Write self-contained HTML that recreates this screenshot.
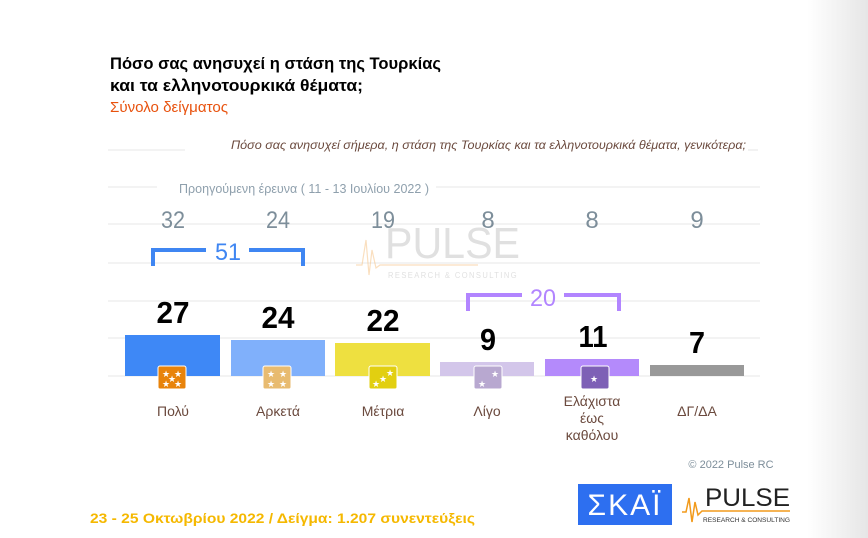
<!DOCTYPE html>
<html><head><meta charset="utf-8">
<style>
html,body{margin:0;padding:0;}
body{width:868px;height:538px;overflow:hidden;background:linear-gradient(to right,#fff 0%,#fff 93%,#e6e6e6 100%);}
svg{display:block;}
text{font-family:"Liberation Sans Narrow","Liberation Sans",sans-serif;}
</style></head><body>
<svg width="868" height="538" viewBox="0 0 868 538" xmlns="http://www.w3.org/2000/svg">
<text x="110" y="69" font-size="17" font-weight="bold" fill="#000" textLength="331" lengthAdjust="spacingAndGlyphs">Πόσο σας ανησυχεί η στάση της Τουρκίας</text>
<text x="110" y="91" font-size="17" font-weight="bold" fill="#000" textLength="253" lengthAdjust="spacingAndGlyphs">και τα ελληνοτουρκικά θέματα;</text>
<text x="110" y="112" font-size="15" fill="#e8520e" textLength="118" lengthAdjust="spacingAndGlyphs">Σύνολο δείγματος</text>
<text x="746" y="149" font-size="12" font-style="italic" fill="#6b4a3e" text-anchor="end" textLength="515" lengthAdjust="spacingAndGlyphs">Πόσο σας ανησυχεί σήμερα, η στάση της Τουρκίας και τα ελληνοτουρκικά θέματα, γενικότερα;</text>
<g stroke="#ececec" stroke-width="1.3">
<line x1="108" y1="150" x2="185" y2="150"/><line x1="748" y1="150" x2="758" y2="150"/>
<line x1="108" y1="187" x2="157" y2="187"/><line x1="436" y1="187" x2="760" y2="187"/>
<line x1="108" y1="224" x2="760" y2="224"/>
<line x1="108" y1="263" x2="760" y2="263"/>
<line x1="108" y1="301" x2="760" y2="301"/>
<line x1="108" y1="338" x2="760" y2="338"/>
<line x1="108" y1="376" x2="760" y2="376"/>
</g>
<g opacity="0.55">
<text x="385" y="258" font-size="44" fill="#c8c8c8" textLength="135" lengthAdjust="spacingAndGlyphs" font-family="Liberation Sans">PULSE</text>
<text x="388" y="278" font-size="8" fill="#c8c8c8" letter-spacing="1.5" textLength="130" lengthAdjust="spacingAndGlyphs">RESEARCH &amp; CONSULTING</text>
<polyline points="356,265 362,265 366,240 369,275 372,250 376,268 380,265 478,265" fill="none" stroke="#f5c48a" stroke-width="1.2"/>
</g>
<text x="179" y="193" font-size="13" fill="#8fa0ad" textLength="250" lengthAdjust="spacingAndGlyphs">Προηγούμενη έρευνα  ( 11 - 13 Ιουλίου  2022 )</text>
<g font-size="24" fill="#7d8e9a" text-anchor="middle">
<text x="173" y="228" textLength="24" lengthAdjust="spacingAndGlyphs">32</text><text x="278" y="228" textLength="24" lengthAdjust="spacingAndGlyphs">24</text><text x="383" y="228" textLength="24" lengthAdjust="spacingAndGlyphs">19</text>
<text x="488" y="228">8</text><text x="592" y="228">8</text><text x="697" y="228">9</text>
</g>
<g stroke="#3f86f2" stroke-width="4" fill="none">
<polyline points="153,266 153,250 206,250"/><polyline points="249,250 303,250 303,266"/>
</g>
<text x="228" y="260" font-size="24" fill="#3f86f2" text-anchor="middle" textLength="26" lengthAdjust="spacingAndGlyphs">51</text>
<g stroke="#b285ff" stroke-width="4" fill="none">
<polyline points="468,311 468,295 522,295"/><polyline points="564,295 619,295 619,311"/>
</g>
<text x="543" y="306" font-size="24" fill="#b285ff" text-anchor="middle" textLength="26" lengthAdjust="spacingAndGlyphs">20</text>
<rect x="125" y="335" width="95" height="41" fill="#3e88f6"/>
<rect x="231" y="340" width="94" height="36" fill="#80b0fb"/>
<rect x="335" y="343" width="95" height="33" fill="#eee040"/>
<rect x="440" y="362" width="94" height="14" fill="#d3c6ea"/>
<rect x="545" y="359" width="94" height="17" fill="#b48afb"/>
<rect x="650" y="365" width="94" height="11" fill="#999"/>
<g font-size="31" font-weight="bold" fill="#000" text-anchor="middle">
<text x="173" y="323" textLength="33" lengthAdjust="spacingAndGlyphs">27</text><text x="278" y="328" textLength="33" lengthAdjust="spacingAndGlyphs">24</text><text x="383" y="331" textLength="33" lengthAdjust="spacingAndGlyphs">22</text>
<text x="488" y="350" textLength="16" lengthAdjust="spacingAndGlyphs">9</text><text x="593" y="347" textLength="29" lengthAdjust="spacingAndGlyphs">11</text><text x="697" y="353" textLength="16" lengthAdjust="spacingAndGlyphs">7</text>
</g>
<g stroke="#fff" stroke-width="1">
<rect x="158" y="366" width="28" height="23" rx="2" fill="#e8830b"/>
<rect x="263" y="366" width="28" height="23" rx="2" fill="#e8bb70"/>
<rect x="369" y="366" width="28" height="23" rx="2" fill="#e2cf10"/>
<rect x="474" y="366" width="28" height="23" rx="2" fill="#b8a8d0"/>
<rect x="581" y="366" width="28" height="23" rx="2" fill="#7e60b6"/>
</g>
<g fill="#fff" font-size="9" font-family="DejaVu Sans" text-anchor="middle">
<text x="166" y="377">★</text><text x="178" y="377">★</text><text x="172" y="382">★</text><text x="166" y="387">★</text><text x="178" y="387">★</text>
<text x="271" y="377">★</text><text x="283" y="377">★</text><text x="271" y="387">★</text><text x="283" y="387">★</text>
<text x="376" y="387">★</text><text x="383" y="382">★</text><text x="390" y="376">★</text>
<text x="495" y="377">★</text><text x="482" y="387">★</text>
<text x="594" y="382">★</text>
</g>
<g font-size="14" fill="#6b4a3e" text-anchor="middle">
<text x="173" y="416">Πολύ</text><text x="278" y="416">Αρκετά</text><text x="383" y="416">Μέτρια</text>
<text x="487" y="416">Λίγο</text>
<text x="592" y="406">Ελάχιστα</text><text x="592" y="423">έως</text><text x="592" y="440">καθόλου</text>
<text x="697" y="416">ΔΓ/ΔΑ</text>
</g>
<text x="731" y="468" font-size="11" fill="#7d8e9a" text-anchor="middle">© 2022 Pulse RC</text>
<text x="90" y="523" font-size="14" font-weight="bold" fill="#f5b800" font-family="Liberation Sans" textLength="385" lengthAdjust="spacingAndGlyphs">23 - 25  Οκτωβρίου  2022  /  Δείγμα:  1.207 συνεντεύξεις</text>
<rect x="578" y="484" width="94" height="41" fill="#2d6ff0"/>
<text x="625" y="515" font-size="30" fill="#fff" text-anchor="middle" font-family="DejaVu Sans" letter-spacing="2">ΣΚΑΪ</text>
<text x="705" y="506" font-size="25" fill="#222" font-family="Liberation Sans" textLength="85" lengthAdjust="spacingAndGlyphs">PULSE</text>
<polyline points="682,512 686,512 689,498 692,522 695,502 698,515 702,511 790,511" fill="none" stroke="#f29a1b" stroke-width="1.5"/>
<text x="703" y="522" font-size="6" fill="#333" textLength="87" lengthAdjust="spacingAndGlyphs">RESEARCH &amp; CONSULTING</text>
</svg>
</body></html>
